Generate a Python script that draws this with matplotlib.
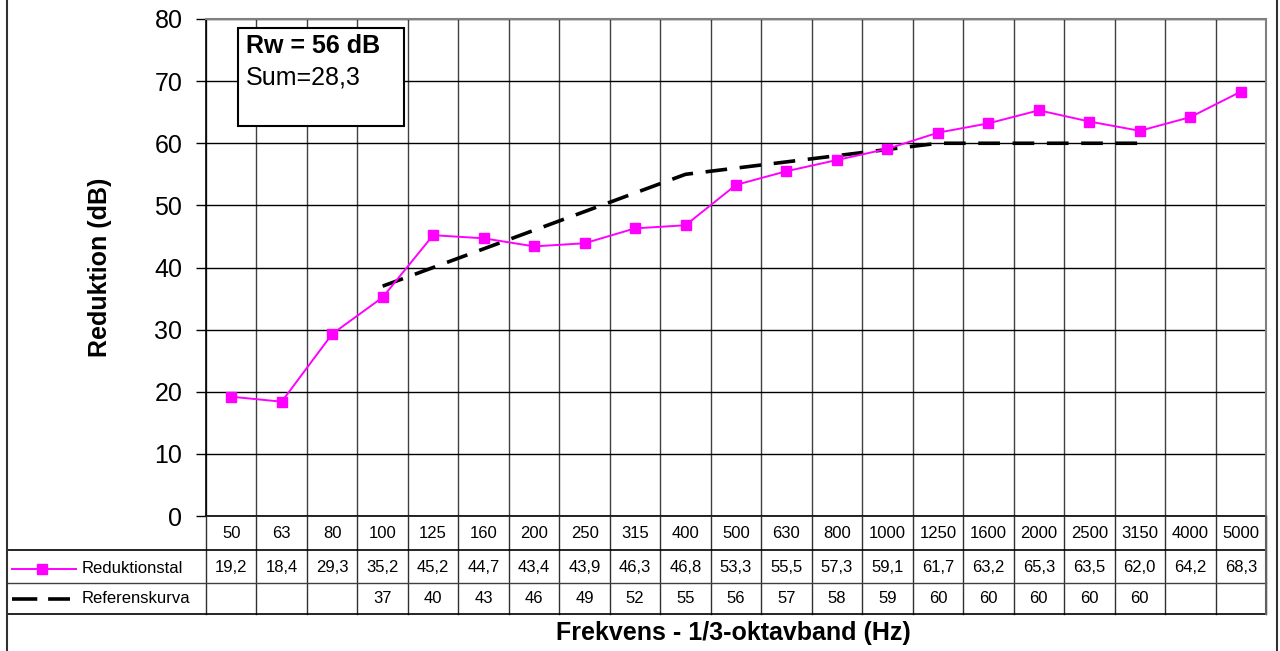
import matplotlib
matplotlib.use("Agg")
import matplotlib.pyplot as plt
from matplotlib.lines import Line2D
import numpy as np

plt.rcParams['font.family'] = ['Liberation Sans', 'DejaVu Sans']

freqs = ["50", "63", "80", "100", "125", "160", "200", "250", "315", "400", "500",
         "630", "800", "1000", "1250", "1600", "2000", "2500", "3150", "4000", "5000"]
reduktion = [19.2, 18.4, 29.3, 35.2, 45.2, 44.7, 43.4, 43.9, 46.3, 46.8, 53.3,
             55.5, 57.3, 59.1, 61.7, 63.2, 65.3, 63.5, 62.0, 64.2, 68.3]
referens = [None, None, None, 37, 40, 43, 46, 49, 52, 55, 56,
            57, 58, 59, 60, 60, 60, 60, 60, None, None]
series_names = ["Reduktionstal", "Referenskurva"]
yticks = [0, 10, 20, 30, 40, 50, 60, 70, 80]

W, H = 1280, 651
fig = plt.figure(figsize=(12.8, 6.51), dpi=100)

def fx(px):
    return px / W

def fy(py):
    return 1 - py / H

ax_l, ax_r, ax_t, ax_b = 206, 1266, 19, 516
ax = fig.add_axes([fx(ax_l), fy(ax_b), fx(ax_r - ax_l), fy(ax_t) - fy(ax_b)])

n = len(freqs)
x = np.arange(n)
ax.set_xlim(-0.5, n - 0.5)
ax.set_ylim(0, 80)

ax.set_yticks(yticks)
ax.set_yticklabels([str(v) for v in yticks], fontsize=18)
ax.tick_params(axis='y', length=7, width=1, pad=10, color='black')
ax.set_xticks(np.arange(n + 1) - 0.5)
ax.set_xticklabels([])
ax.tick_params(axis='x', length=0)
ax.grid(True, axis='y', color='black', lw=1)
ax.grid(True, axis='x', color='#404040', lw=1)
ax.set_axisbelow(True)
for side in ['top', 'right']:
    ax.spines[side].set_color('#808080')
    ax.spines[side].set_linewidth(1.5)
for side in ['left', 'bottom']:
    ax.spines[side].set_color('black')
    ax.spines[side].set_linewidth(1.2)

red_kw = dict(color='#ff00ff', lw=1.4, marker='s', markersize=6.5,
              markerfacecolor='#ff00ff', markeredgecolor='#ff00ff')
ref_kw = dict(color='black', lw=2.6, dashes=(6, 3.5), dash_capstyle='butt')

ax.plot(x, reduktion, zorder=4, **red_kw)
rx = [i for i, v in enumerate(referens) if v is not None]
ry = [referens[i] for i in rx]
ax.plot(rx, ry, zorder=3, **ref_kw)

fig.text(fx(100), fy(267), "Reduktion (dB)", fontsize=18, fontweight='bold',
         rotation=90, ha='center', va='center')

# text box
box_l, box_t, box_r, box_b = 238, 28, 404, 126
fig.patches.append(plt.Rectangle((fx(box_l), fy(box_b)), fx(box_r - box_l),
                                 fy(box_t) - fy(box_b), transform=fig.transFigure,
                                 facecolor='white', edgecolor='black', lw=1.5, zorder=5))
fig.text(fx(246), fy(46), "Rw = 56 dB", fontsize=18, fontweight='bold',
         ha='left', va='center', zorder=6)
fig.text(fx(246), fy(78), "Sum=28,3", fontsize=18, ha='left', va='center', zorder=6)

# data table
col_w = (ax_r - ax_l) / n
bounds = [ax_l + i * col_w for i in range(n + 1)]
row_cat = (516, 550)
row_1 = (550, 583)
row_2 = (583, 614)
tbl_left = 7

def hline(y, x0, x1, color='black', lw=1.0):
    fig.add_artist(Line2D([fx(x0), fx(x1)], [fy(y), fy(y)], transform=fig.transFigure,
                          color=color, lw=lw))

def vline(xp, y0, y1, color='black', lw=1.0):
    fig.add_artist(Line2D([fx(xp), fx(xp)], [fy(y0), fy(y1)], transform=fig.transFigure,
                          color=color, lw=lw))

for b in bounds:
    vline(b, row_cat[0], row_2[1], color='#303030', lw=1.0)
hline(row_1[0], tbl_left, ax_r, lw=1.2)
hline(row_2[0], tbl_left, ax_r, color='#404040', lw=1.0)
hline(row_2[1], tbl_left, ax_r, lw=1.2)
vline(ax_r, row_cat[0], row_2[1], color='#606060', lw=1.5)

for i in range(n):
    cx = (bounds[i] + bounds[i + 1]) / 2
    fig.text(fx(cx), fy(sum(row_cat) / 2), freqs[i], fontsize=12, ha='center', va='center')
    fig.text(fx(cx), fy(sum(row_1) / 2 + 1), f"{reduktion[i]:.1f}".replace('.', ','),
             fontsize=12, ha='center', va='center')
    if referens[i] is not None:
        fig.text(fx(cx), fy(sum(row_2) / 2), str(referens[i]), fontsize=12,
                 ha='center', va='center')

# legend keys in table
ly1 = sum(row_1) / 2 + 2
fig.add_artist(Line2D([fx(12), fx(42), fx(76)], [fy(ly1)] * 3, transform=fig.transFigure,
                      markevery=[1], **red_kw))
fig.text(fx(82), fy(ly1), series_names[0], fontsize=12, ha='left', va='center')
ly2 = sum(row_2) / 2
fig.add_artist(Line2D([fx(12), fx(70)], [fy(ly2), fy(ly2)], transform=fig.transFigure,
                      color='black', lw=2.6, dashes=(7, 3)))
fig.text(fx(82), fy(ly2), series_names[1], fontsize=12, ha='left', va='center')

fig.text(fx(733), fy(633), "Frekvens - 1/3-oktavband (Hz)", fontsize=18,
         fontweight='bold', ha='center', va='center')

# figure border (left & right)
vline(6.5, 0, H, color='#303030', lw=1.5)
vline(1276.5, 0, H, color='#303030', lw=1.5)

fig.savefig("out.png", dpi=100)
